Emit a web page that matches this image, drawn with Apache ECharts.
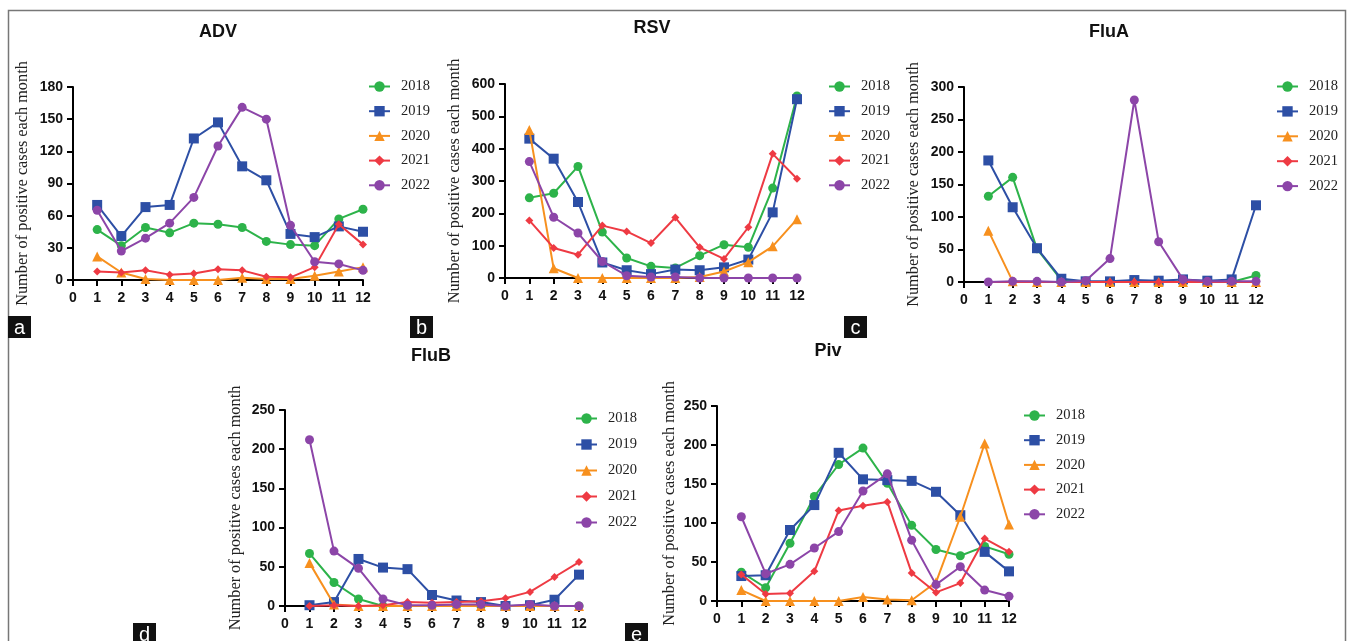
<!DOCTYPE html>
<html><head><meta charset="utf-8">
<script src="https://cdn.jsdelivr.net/npm/echarts@6/dist/echarts.min.js"></script>
<style>html,body{margin:0;padding:0;background:#fff}#c{width:1348px;height:641px}</style>
</head><body><div id="c"></div>
<script>
const months = [1,2,3,4,5,6,7,8,9,10,11,12];
const years = ['2018','2019','2020','2021','2022'];
const xTicks = [0,1,2,3,4,5,6,7,8,9,10,11,12];

const adv2018 = [47,32,49,44,53,52,49,36,33,32,57,66];
const adv2019 = [70,41,68,70,132,147,106,93,43,40,50,45];
const adv2020 = [22,7,1,0,0,0,2,1,1,4,8,12];
const adv2021 = [8,7,9,5,6,10,9,3,2.5,12,52,33];
const adv2022 = [65,27,39,53,77,125,161,150,51,17,15,9];

const rsv2018 = [248,262,345,142,62,36,31,69,103,95,278,563];
const rsv2019 = [431,369,235,48,24,12,26,24,33,57,203,553];
const rsv2020 = [458,30,0,0,0,0,0,3,20,49,98,182];
const rsv2021 = [178,93,72,162,144,108,187,95,59,157,384,307];
const rsv2022 = [360,188,139,51,7,3,3,0,0,0,0,0];

const fluA2018 = [132,161,51,3,0,0,1,1,0,0,0,10];
const fluA2019 = [187,115,52,5,1,1,3,2,4,2,4,118];
const fluA2020 = [79,1,0,0,0,0,0,0,0,0,0,0];
const fluA2021 = [0,0,0,0,0,0,0,0,0,0,0,0];
const fluA2022 = [0,1,1,0,2,36,280,62,4,1,1,1];

const fluB2018 = [67,30,9,0,0,0,0,0,0,0,0,0];
const fluB2019 = [1,5,60,49,47,14,7,5,0,1,8,40];
const fluB2020 = [55,2,0,0,0,0,0,0,0,0,0,0];
const fluB2021 = [0,1,0,1,5,4,5,6,10,18,37,56];
const fluB2022 = [212,70,48,9,1,1,2,2,0,2,0,0];

const piv2018 = [37,17,74,134,175,196,151,97,66,58,70,60];
const piv2019 = [32,33,91,123,190,156,155,154,140,110,63,38];
const piv2020 = [14,0,0,0,0,5,2,1,24,108,202,98];
const piv2021 = [34,9,10,38,116,122,127,36,11,23,80,63];
const piv2022 = [108,35,47,68,89,141,163,78,21,44,14,6];

const yTicksADV = [0,30,60,90,120,150,180];
const yTicksRSV = [0,100,200,300,400,500,600];
const yTicksFluA = [0,50,100,150,200,250,300];
const yTicksFluB = [0,50,100,150,200,250];
const yTicksPiv = [0,50,100,150,200,250];

const yName = 'Number of positive cases each month';

const colors = ['#2db34a','#2d4fa5','#f7901e','#ee3a43','#8c45a8'];
const symbols = ['circle','rect','triangle','diamond','circle'];
const symSizes = [9,10,10,8,9];

const panels = [
  {title:'ADV', tx:218, ty:32, letter:'a', lx:8, ly:316,
   grid:{left:73, top:87, width:290, height:193}, ticks:yTicksADV, gap:42,
   legend:{left:368, top:79, itemGap:9.7},
   data:[adv2018,adv2019,adv2020,adv2021,adv2022]},
  {title:'RSV', tx:652, ty:28, letter:'b', lx:410, ly:316,
   grid:{left:505, top:84, width:292, height:194}, ticks:yTicksRSV, gap:42,
   legend:{left:828, top:79, itemGap:9.7},
   data:[rsv2018,rsv2019,rsv2020,rsv2021,rsv2022]},
  {title:'FluA', tx:1109, ty:32, letter:'c', lx:844, ly:316,
   grid:{left:964, top:87, width:292, height:195}, ticks:yTicksFluA, gap:42,
   legend:{left:1276, top:79, itemGap:9.9},
   data:[fluA2018,fluA2019,fluA2020,fluA2021,fluA2022]},
  {title:'FluB', tx:431, ty:356, letter:'d', lx:133, ly:623,
   grid:{left:285, top:410, width:294, height:196}, ticks:yTicksFluB, gap:41,
   legend:{left:575, top:411, itemGap:11},
   data:[fluB2018,fluB2019,fluB2020,fluB2021,fluB2022]},
  {title:'Piv', tx:828, ty:351, letter:'e', lx:625, ly:623,
   grid:{left:717, top:406, width:292, height:195}, ticks:yTicksPiv, gap:39,
   legend:{left:1023, top:408, itemGap:9.7},
   data:[piv2018,piv2019,piv2020,piv2021,piv2022]}
];

const tickFont = {color:'#111', fontWeight:'bold', fontFamily:'Liberation Sans, Arial', fontSize:14};
const axisLine = {show:true, lineStyle:{color:'#000', width:2}};
const axisTick = {show:true, length:6, lineStyle:{color:'#000', width:2}};

const grid = [], xAxis = [], yAxis = [], series = [], legend = [], graphic = [];

panels.forEach((p, i) => {
  grid.push(Object.assign({containLabel:false}, p.grid));
  xAxis.push({type:'value', gridIndex:i, min:xTicks[0], max:xTicks[xTicks.length-1], interval:1,
    axisLine:axisLine, axisTick:axisTick, splitLine:{show:false},
    axisLabel:Object.assign({margin:11, showMinLabel:true, showMaxLabel:true}, tickFont)});
  const t = p.ticks;
  yAxis.push({type:'value', gridIndex:i, min:t[0], max:t[t.length-1], interval:t[1]-t[0],
    axisLine:axisLine, axisTick:axisTick, splitLine:{show:false},
    axisLabel:Object.assign({margin:10}, tickFont),
    name:yName, nameLocation:'middle', nameRotate:90, nameGap:p.gap,
    nameTextStyle:{fontFamily:'Liberation Serif, Times New Roman', fontSize:16.3, color:'#222'}});
  p.data.forEach((arr, k) => {
    series.push({type:'line', name:years[k], xAxisIndex:i, yAxisIndex:i,
      data:months.map((m, j) => [m, arr[j]]),
      symbol:symbols[k], symbolSize:symSizes[k], showAllSymbol:true,
      itemStyle:{color:colors[k]}, lineStyle:{color:colors[k], width:2},
      emphasis:{disabled:true}, animation:false, z:2+k});
  });
  legend.push({data:years, orient:'vertical', left:p.legend.left, top:p.legend.top,
    itemGap:p.legend.itemGap, itemWidth:21, itemHeight:13, padding:0,
    textStyle:{fontFamily:'Liberation Serif, Times New Roman', fontSize:14.5, color:'#222', padding:[0,0,0,6]},
    selectedMode:false});
  graphic.push({type:'text', x:p.tx, y:p.ty, style:{text:p.title, textAlign:'center', textVerticalAlign:'middle',
    font:'bold 18px "Liberation Sans", Arial', fill:'#111'}});
  graphic.push({type:'rect', shape:{x:p.lx, y:p.ly, width:23, height:22}, style:{fill:'#111'}});
  graphic.push({type:'text', x:p.lx+11.5, y:p.ly+12, style:{text:p.letter, textAlign:'center', textVerticalAlign:'middle',
    font:'20px "Liberation Sans", Arial', fill:'#fff'}});
});

graphic.push({type:'polyline', shape:{points:[[8.5,641],[8.5,10.5],[1345.5,10.5],[1345.5,641]]},
  style:{stroke:'#777', lineWidth:1.5, fill:null}, z:-1});

const chart = echarts.init(document.getElementById('c'), null, {renderer:'canvas'});
chart.setOption({animation:false, backgroundColor:'#fff', grid, xAxis, yAxis, series, legend, graphic});
</script></body></html>
